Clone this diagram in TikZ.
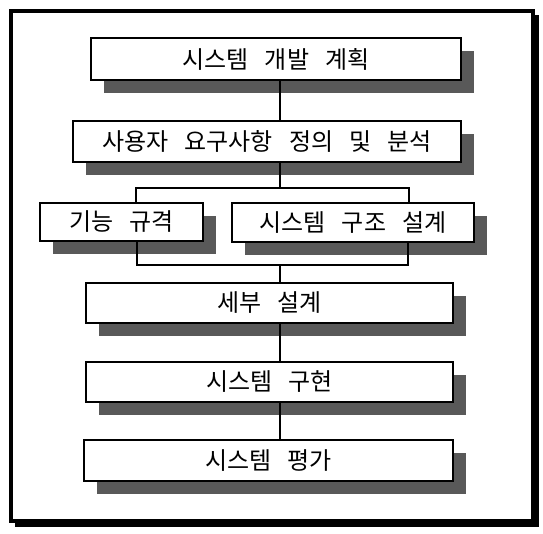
\documentclass[tikz,border=0pt]{standalone}
\usepackage{fontspec}
\usepackage{tikz}
\usetikzlibrary{shadows}
\usetikzlibrary{positioning}
\newfontfamily\kr{Noto Sans CJK KR}[WordSpace=3]

\tikzset{
	stage/.style={draw,fill=white,line width=2,inner sep=0,
		font=\kr\fontsize{24}{27}\selectfont,
		drop shadow={shadow xshift=13pt,shadow yshift=-13pt,fill=black!65,opacity=1}},
	link/.style={line width=1.6}
}

\begin{document}
\begin{tikzpicture}[x=1pt,y=-1pt]
	\useasboundingbox (0,0) rectangle (543,533);
	
	% outer frame with heavy right and bottom edge
	\fill[black] (15,15) rectangle (539,527);
	\draw[fill=white,line width=3.5] (11,11) rectangle (533,521);
	
	% stages
	\node[stage,minimum width=370,minimum height=42] (plan) at (276,59) {시스템 개발 계획};
	\node[stage,minimum width=388,minimum height=41] (req) at (267,141.5) {사용자 요구사항 정의 및 분석};
	\node[stage,minimum width=163,minimum height=38] (func) at (121.5,221.5) {기능 규격};
	\node[stage,minimum width=242,minimum height=39] (arch) at (353,222.5) {시스템 구조 설계};
	\node[stage,minimum width=367,minimum height=40] (detail) at (269.5,303) {세부 설계};
	\node[stage,minimum width=367,minimum height=40] (impl) at (269.5,382) {시스템 구현};
	\node[stage,minimum width=369,minimum height=41] (eval) at (268.5,460.5) {시스템 평가};
	
	% points of the split and the join
	\coordinate (trunk) at (280,0);
	\coordinate (splitL) at (136,188);
	\coordinate (splitR) at (409,188);
	\coordinate (joinL) at (137,265);
	\coordinate (joinR) at (408,265);
	
	% connectors
	\draw[link] (plan.south -| trunk) -- (req.north -| trunk);
	\draw[link] (req.south -| trunk) -- (trunk |- splitL);
	\draw[link] (func.north -| splitL) -- (splitL) -- (splitR) -- (arch.north -| splitR);
	\draw[link] (func.south -| joinL) -- (joinL) -- (joinR) -- (arch.south -| joinR);
	\draw[link] (trunk |- joinL) -- (detail.north -| trunk);
	\draw[link] (detail.south -| trunk) -- (impl.north -| trunk);
	\draw[link] (impl.south -| trunk) -- (eval.north -| trunk);
\end{tikzpicture}
\end{document}
